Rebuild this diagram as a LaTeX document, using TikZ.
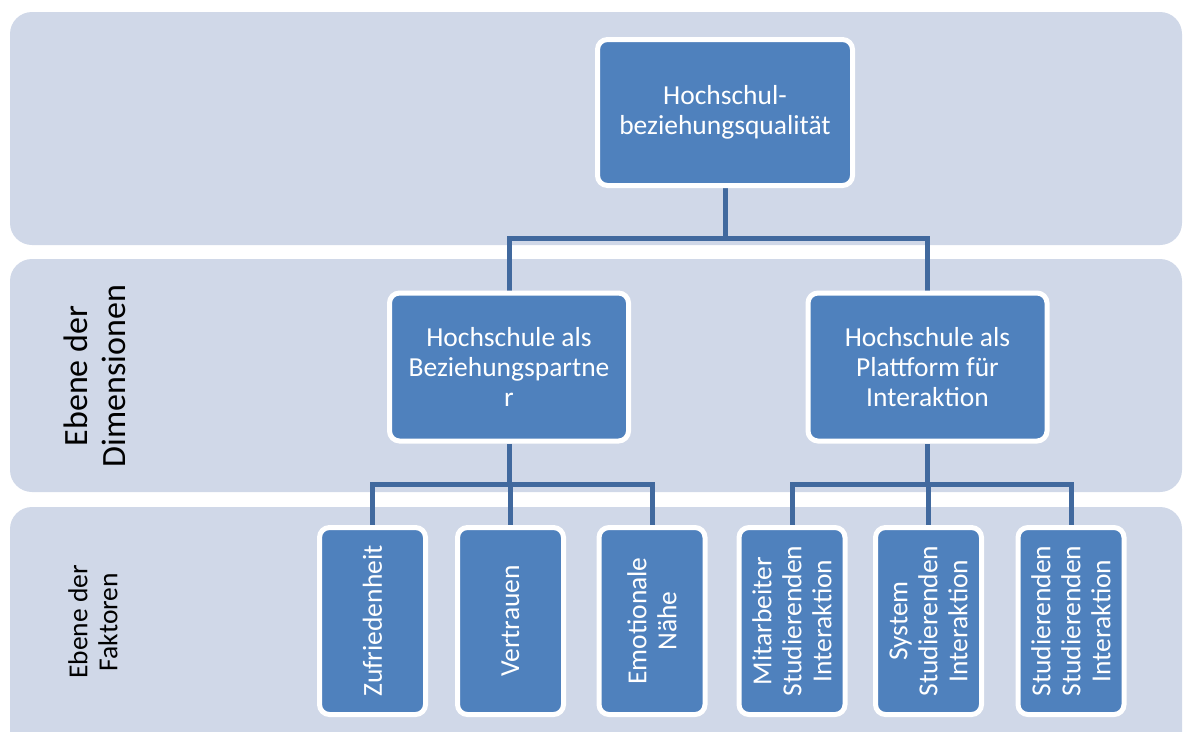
\documentclass[tikz,border=0pt]{standalone}
\usepackage{fontspec}
\setmainfont{Carlito}
\usepackage{tikz}
\usetikzlibrary{backgrounds}

\definecolor{bandcol}{HTML}{D0D8E8}
\definecolor{boxcol}{HTML}{4F81BD}
\definecolor{linecol}{HTML}{41699E}

\begin{document}
\begin{tikzpicture}[x=1pt, y=-1pt,
        band/.style={fill=bandcol, rounded corners=22pt},
        box/.style={draw=white, line width=5pt, fill=boxcol, rounded corners=10pt, text=white, align=center, inner sep=0pt, font=\fontsize{27.5}{30}\selectfont},
        dimbox/.style={box, minimum width=239pt, minimum height=148pt},
        factbox/.style={box, rotate=90, minimum width=187pt, minimum height=106pt},
        levellabel/.style={rotate=90, align=center, inner sep=0pt},
        conn/.style={draw=linecol, line width=5pt}]
        \useasboundingbox (0,0) rectangle (1183,731);
        \clip (0,0) rectangle (1183,731);
        \node[box, minimum width=255pt, minimum height=146pt] (top) at (725,112.5) {Hochschul-\\beziehungsqualität};
        \node[dimbox] (dimA) at (509,367) {Hochschule als\\Beziehungspartne\\r};
        \node[dimbox] (dimB) at (927.5,367) {Hochschule als\\Plattform für\\Interaktion};
        \node[factbox] (zuf) at (372.5,621) {Zufriedenheit};
        \node[factbox] (ver) at (510.5,621) {Vertrauen};
        \node[factbox] (emo) at (652,621) {Emotionale\\Nähe};
        \node[factbox] (mit) at (792,621) {Mitarbeiter\\Studierenden\\Interaktion};
        \node[factbox] (sys) at (928.5,621) {System\\Studierenden\\Interaktion};
        \node[factbox] (stu) at (1071,621) {Studierenden\\Studierenden\\Interaktion};
        \node[levellabel, font=\fontsize{34}{38}\selectfont] (dimlabel) at (95,376) {Ebene der\\Dimensionen};
        \node[levellabel, font=\fontsize{27.5}{30}\selectfont] (factlabel) at (93,622) {Ebene der\\Faktoren};
        \begin{scope}[on background layer]
            \fill[band] (10,12) rectangle (1182,245);
            \fill[band] (10,259) rectangle (1182,492);
            \fill[band] (10,507) rectangle (1182,760);
            \draw[conn] (top.south) -- (top.south |- 0,238) coordinate (topjoin);
            \draw[conn] (topjoin) -| (dimA.north);
            \draw[conn] (topjoin) -| (dimB.north);
            \draw[conn] (dimA.south) -- (dimA.south |- 0,484) coordinate (joinA);
            \draw[conn] (joinA) -| (zuf.east);
            \draw[conn] (joinA) -| (ver.east);
            \draw[conn] (joinA) -| (emo.east);
            \draw[conn] (dimB.south) -- (dimB.south |- 0,484) coordinate (joinB);
            \draw[conn] (joinB) -| (mit.east);
            \draw[conn] (joinB) -| (sys.east);
            \draw[conn] (joinB) -| (stu.east);
        \end{scope}
    \end{tikzpicture}
\end{document}
